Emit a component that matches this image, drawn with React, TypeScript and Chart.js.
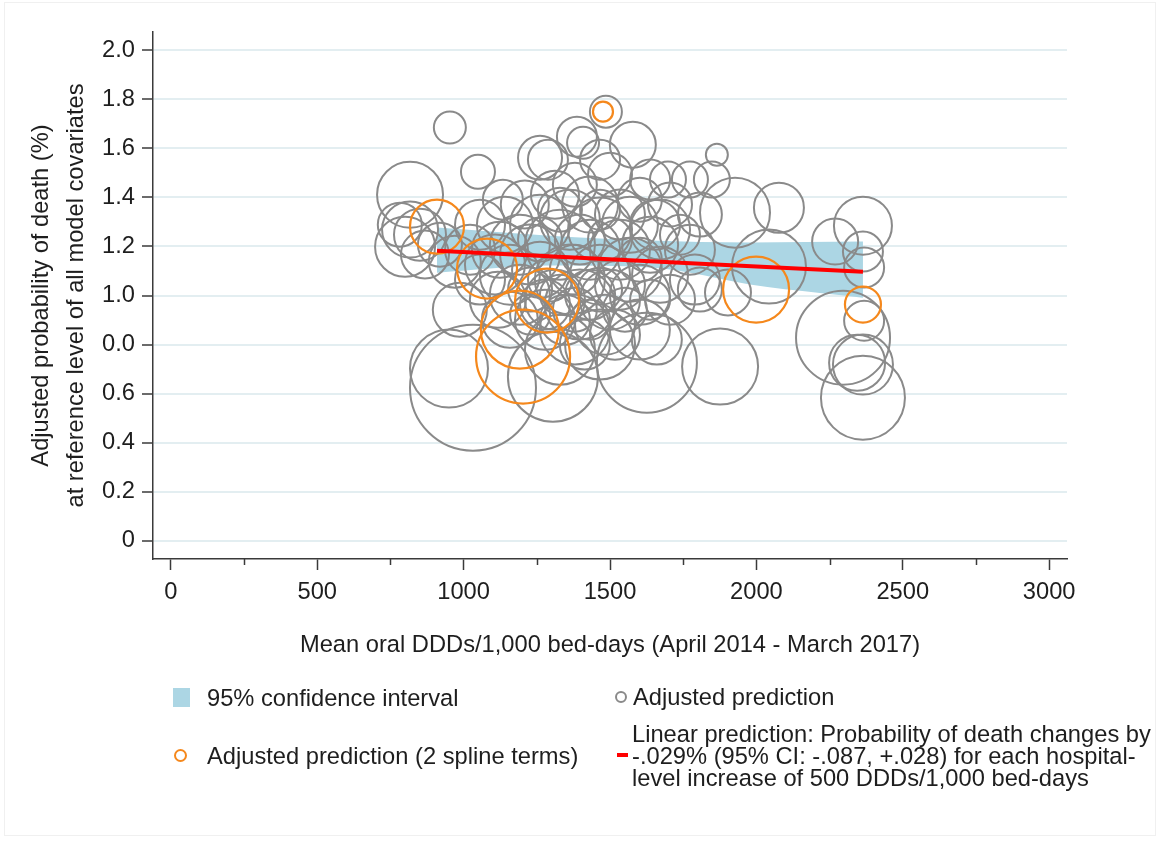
import React, { useEffect, useRef } from 'react';
import { Chart, registerables } from 'chart.js';

Chart.register(...registerables);

// ---------- data ----------
const xTickValues = [0, 500, 1000, 1500, 2000, 2500, 3000];
const xMinorTickValues = [250, 750, 1250, 1750, 2250, 2750];
const yTickValues = [0, 0.2, 0.4, 0.6, 0.8, 1.0, 1.2, 1.4, 1.6, 1.8, 2.0];
const yTickLabels = ['0', '0.2', '0.4', '0.6', '0.0', '1.0', '1.2', '1.4', '1.6', '1.8', '2.0'];

// Adjusted prediction (hospital bubbles): DDDs, probability, bubble weight
const grayDDD = [
  953, 1049, 817, 817, 800, 851, 868, 919, 970, 782, 1134, 1056, 987, 950, 1032, 1117, 1022, 1107, 1056,
  1261, 1288, 1387, 1408, 1486, 1578, 1865, 1466, 1500, 1312, 1380, 1637, 1698, 1773, 1848,
  1209, 1432, 1602, 1705, 1141, 1261, 1363, 1466, 1568, 1654, 1671,
  1192, 1124, 1227, 1329, 1432, 1534, 1637, 1773,
  1158, 1261, 1363, 1466, 1568, 1671, 1790,
  1192, 1312, 1397, 1500, 1602, 1705, 1807,
  1158, 1278, 1380, 1483, 1602, 1329, 1466, 1305, 1626, 1660,
  1927, 2077, 1807, 2043, 1903, 1876, 2269, 2364, 2364, 2368, 2368, 2296, 2344, 2364, 2364,
  1227, 1278, 1329, 1380, 1432, 1227, 1346, 1432, 1295, 1380, 1466, 1534, 1551,
  1261, 1397, 1500, 1602, 1466, 1534, 1329, 1739, 1637, 1517, 1414,
];
const grayProb = [
  1.685, 1.505, 1.411, 1.269, 1.199, 1.248, 1.167, 1.207, 1.138, 1.289, 1.391, 1.289, 0.942, 0.702, 0.624, 0.983, 1.187, 1.126, 1.065,
  1.562, 1.554, 1.648, 1.623, 1.750, 1.615, 1.574, 1.554, 1.493, 1.411, 1.452, 1.473, 1.473, 1.473, 1.473,
  1.371, 1.371, 1.391, 1.371, 1.289, 1.289, 1.309, 1.269, 1.289, 1.289, 1.269,
  1.207, 1.187, 1.167, 1.207, 1.187, 1.187, 1.207, 1.187,
  1.085, 1.105, 1.065, 1.085, 1.105, 1.085, 1.065,
  1.003, 0.983, 0.963, 0.983, 1.003, 0.983, 1.024,
  0.901, 0.901, 0.861, 0.881, 0.861, 0.779, 0.800, 0.669, 0.726, 0.820,
  1.338, 1.358, 1.330, 1.118, 1.012, 0.710, 1.220, 1.285, 1.179, 1.114, 0.897, 0.828, 0.726, 0.718, 0.583,
  1.024, 0.963, 1.003, 0.942, 1.003, 0.922, 0.901, 0.901, 1.065, 1.105, 1.024, 1.044, 0.942,
  1.228, 1.228, 1.228, 1.146, 1.350, 1.330, 1.350, 1.248, 0.983, 0.840, 0.800,
];
const grayWeight = [
  16, 17, 33, 28, 30, 26, 24, 22, 26, 22, 20, 25, 27, 39, 63, 28, 25, 30, 25,
  22, 20, 20, 16, 16, 23, 11, 20, 22, 24, 22, 20, 18, 18, 18,
  24, 28, 22, 22, 28, 30, 30, 32, 28, 25, 30,
  30, 28, 30, 35, 30, 30, 28, 25,
  30, 28, 35, 30, 32, 28, 25,
  30, 30, 35, 30, 30, 25, 22,
  28, 30, 35, 30, 30, 35, 35, 45, 50, 25,
  35, 25, 22, 37, 23, 38, 23, 29, 20, 20, 20, 47, 28, 30, 42,
  22, 25, 20, 22, 25, 20, 25, 20, 22, 25, 22, 25, 22,
  22, 25, 22, 22, 20, 25, 22, 20, 20, 25, 25,
];

// Adjusted prediction (2 spline terms)
const splineDDD = [1476, 909, 1080, 1285, 1192, 1203, 1999, 2364];
const splineProb = [1.750, 1.281, 1.110, 0.979, 0.861, 0.751, 1.024, 0.963];
const splineWeight = [10, 27, 30, 32, 39, 47, 33, 18];

// 95% confidence interval
const ciUpperX = [909, 1295, 1637, 1978, 2364];
const ciUpperY = [1.277, 1.244, 1.224, 1.216, 1.220];
const ciLowerX = [909, 1295, 1637, 1773, 1978, 2217, 2364];
const ciLowerY = [1.093, 1.122, 1.114, 1.093, 1.045, 1.010, 0.991];

// Linear prediction
const linX = [909, 2364];
const linY = [1.183, 1.097];

// ---------- style ----------
const FONT = "'Liberation Sans', Arial, sans-serif";
const FS = 23.7;
const TEXT = '#1e1e1e';
const AXIS = '#3a3a3a';
const GRAY = '#8a8a8a';
const ORANGE = '#f5881c';
const BAND = 'rgb(172, 214, 228)';
const RED = '#ff0000';

const minorTicksPlugin = {
  id: 'minorTicks',
  afterDraw(chart: any) {
    const xs = chart.scales.x;
    const ctx = chart.ctx;
    const b = chart.chartArea.bottom;
    ctx.save();
    ctx.strokeStyle = AXIS;
    ctx.lineWidth = 1.5;
    xMinorTickValues.forEach((v) => {
      const px = Math.round(xs.getPixelForValue(v)) + 0.5;
      ctx.beginPath();
      ctx.moveTo(px, b);
      ctx.lineTo(px, b + 6);
      ctx.stroke();
    });
    ctx.restore();
  },
};

export default function App() {
  const ref = useRef<HTMLCanvasElement | null>(null);

  useEffect(() => {
    if (!ref.current) return;
    const chart = new Chart(ref.current, {
      type: 'scatter',
      data: {
        datasets: [
          {
            type: 'line',
            label: 'Linear prediction',
            data: linX.map((x, i) => ({ x, y: linY[i] })),
            borderColor: RED,
            borderWidth: 4,
            pointRadius: 0,
            fill: false,
            order: 0,
          } as any,
          {
            type: 'bubble',
            label: 'Adjusted prediction (2 spline terms)',
            data: splineDDD.map((x, i) => ({ x, y: splineProb[i], r: splineWeight[i] })),
            borderColor: ORANGE,
            backgroundColor: 'rgba(0,0,0,0)',
            borderWidth: 2.2,
            order: 1,
          } as any,
          {
            type: 'bubble',
            label: 'Adjusted prediction',
            data: grayDDD.map((x, i) => ({ x, y: grayProb[i], r: grayWeight[i] })),
            borderColor: GRAY,
            backgroundColor: 'rgba(0,0,0,0)',
            borderWidth: 2,
            order: 2,
          } as any,
          {
            type: 'line',
            label: '95% CI upper',
            data: ciUpperX.map((x, i) => ({ x, y: ciUpperY[i] })),
            borderColor: 'rgba(0,0,0,0)',
            borderWidth: 0,
            backgroundColor: BAND,
            pointRadius: 0,
            cubicInterpolationMode: 'monotone',
            fill: '+1',
            order: 3,
          } as any,
          {
            type: 'line',
            label: '95% CI lower',
            data: ciLowerX.map((x, i) => ({ x, y: ciLowerY[i] })),
            borderColor: 'rgba(0,0,0,0)',
            borderWidth: 0,
            pointRadius: 0,
            cubicInterpolationMode: 'monotone',
            fill: false,
            order: 4,
          } as any,
        ],
      },
      options: {
        animation: false,
        responsive: false,
        devicePixelRatio: 1,
        events: [],
        layout: { autoPadding: false, padding: { left: 0, top: 32, right: 93, bottom: 172 } },
        plugins: {
          legend: { display: false },
          tooltip: { enabled: false },
        },
        scales: {
          x: {
            type: 'linear',
            min: -61,
            max: 3061,
            afterBuildTicks: (s: any) => {
              s.ticks = xTickValues.map((v) => ({ value: v }));
            },
            afterFit: (s: any) => {
              s.height = 110;
            },
            grid: {
              display: true,
              drawOnChartArea: false,
              drawTicks: true,
              tickLength: 11,
              tickColor: AXIS,
              tickWidth: 1.5,
            },
            border: { display: true, color: AXIS, width: 1.5 },
            ticks: {
              font: { family: FONT, size: FS },
              color: TEXT,
              padding: 8,
              maxRotation: 0,
              autoSkip: false,
              callback: (v: any) => String(v),
            },
            title: {
              display: true,
              text: 'Mean oral DDDs/1,000 bed-days (April 2014 - March 2017)',
              font: { family: FONT, size: FS, lineHeight: 1.2 },
              color: TEXT,
              padding: { top: 0, bottom: 9 },
            },
          },
          y: {
            type: 'linear',
            min: -0.075,
            max: 2.075,
            afterBuildTicks: (s: any) => {
              s.ticks = yTickValues.map((v) => ({ value: v }));
            },
            afterFit: (s: any) => {
              s.width = 153;
            },
            grid: {
              display: true,
              drawOnChartArea: true,
              color: '#e3eef1',
              lineWidth: 2,
              drawTicks: true,
              tickLength: 11,
              tickColor: AXIS,
              tickWidth: 1.5,
            },
            border: { display: true, color: AXIS, width: 1.5 },
            ticks: {
              font: { family: FONT, size: FS },
              color: TEXT,
              padding: 7,
              autoSkip: false,
              callback: (_v: any, i: number) => yTickLabels[i],
            },
            title: {
              display: true,
              text: ['Adjusted probability of death (%)', 'at reference level of all model covariates'],
              font: { family: FONT, size: FS, lineHeight: 1.48 },
              color: TEXT,
              padding: { top: 24, bottom: 0 },
            },
          },
        },
      } as any,
      plugins: [minorTicksPlugin],
    });
    return () => chart.destroy();
  }, []);

  const txt: React.CSSProperties = {
    position: 'absolute',
    fontFamily: FONT,
    fontSize: FS,
    color: TEXT,
    whiteSpace: 'nowrap',
    lineHeight: '26px',
  };

  return (
    <div style={{ position: 'absolute', left: 0, top: 0, width: 1160, height: 841, background: '#fff', overflow: 'hidden' }}>
      <div
        style={{
          position: 'absolute',
          left: 4,
          top: 2,
          width: 1152,
          height: 834,
          border: '1px solid #f0f0f0',
          boxSizing: 'border-box',
        }}
      />
      <canvas ref={ref} width={1160} height={841} style={{ position: 'absolute', left: 0, top: 0, width: 1160, height: 841 }} />
      {/* legend */}
      <div style={{ position: 'absolute', left: 173, top: 688, width: 17, height: 19, background: BAND }} />
      <div style={{ ...txt, left: 207, top: 685 }}>95% confidence interval</div>
      <div
        style={{
          position: 'absolute',
          left: 615,
          top: 691,
          width: 12,
          height: 12,
          borderRadius: '50%',
          border: `2px solid ${GRAY}`,
          boxSizing: 'border-box',
        }}
      />
      <div style={{ ...txt, left: 633, top: 684 }}>Adjusted prediction</div>
      <div
        style={{
          position: 'absolute',
          left: 174,
          top: 749,
          width: 13,
          height: 13,
          borderRadius: '50%',
          border: `2px solid ${ORANGE}`,
          boxSizing: 'border-box',
        }}
      />
      <div style={{ ...txt, left: 207, top: 743 }}>Adjusted prediction (2 spline terms)</div>
      <div style={{ position: 'absolute', left: 617, top: 753, width: 11, height: 4, background: RED }} />
      <div style={{ ...txt, left: 632, top: 723, lineHeight: '22px' }}>
        Linear prediction: Probability of death changes by
        <br />
        -.029% (95% CI: -.087, +.028) for each hospital-
        <br />
        level increase of 500 DDDs/1,000 bed-days
      </div>
    </div>
  );
}
